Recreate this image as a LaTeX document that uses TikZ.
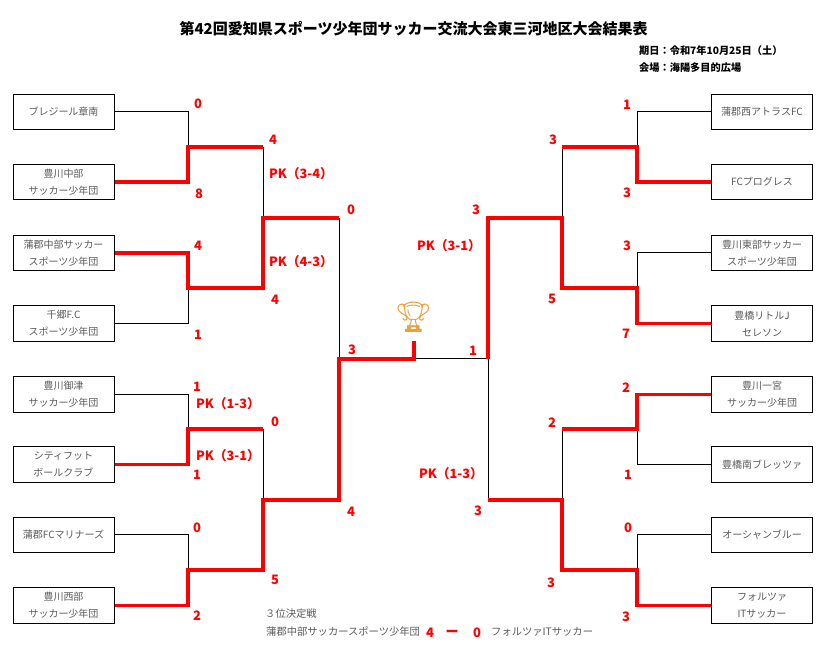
\documentclass[tikz,border=0pt]{standalone}
\usepackage{fontspec}
\setmainfont{Noto Sans CJK JP}
\newfontfamily\emofont{Noto Emoji}
\definecolor{boxgray}{HTML}{5A5A5A}
\definecolor{winred}{HTML}{FF0000}
\definecolor{trophy}{HTML}{E9A23B}
\tikzset{
  team/.style={draw, line width=1pt, minimum width=101pt, minimum height=35.5pt, inner sep=0pt,
    text=boxgray, align=center, font=\fontsize{10}{17}\selectfont},
  lose/.style={draw=black, line width=1pt},
  win/.style={draw=winred, line width=3.3pt, line join=miter},
  score/.style={text=winred, inner sep=0pt, font=\bfseries\fontsize{13}{14}\selectfont},
  pk/.style={text=winred, inner sep=0pt, font=\bfseries\fontsize{12.8}{14}\selectfont},
  info/.style={inner sep=0pt, anchor=west, font=\bfseries\fontsize{10.2}{12}\selectfont},
  bottomtxt/.style={inner sep=0pt, anchor=west, text=boxgray, font=\fontsize{10.3}{12}\selectfont}
}
\begin{document}
\begin{tikzpicture}[x=1pt,y=-1pt]
\useasboundingbox (0,0) rectangle (823,660);
% title
\node[inner sep=0pt, font=\bfseries\fontsize{15}{17}\selectfont] (title) at (413.5,29) {第42回愛知県スポーツ少年団サッカー交流大会東三河地区大会結果表};
\node[info] (date) at (639,51) {期日：令和7年10月25日（土）};
\node[info] (venue) at (639,68) {会場：海陽多目的広場};
% left teams
\node[team] (L1) at (63.5,112) {ブレジール章南};
\node[team] (L2) at (63.5,182) {豊川中部\\サッカー少年団};
\node[team] (L3) at (63.5,253) {蒲郡中部サッカー\\スポーツ少年団};
\node[team] (L4) at (63.5,323.5) {千郷F.C\\スポーツ少年団};
\node[team] (L5) at (63.5,394.5) {豊川御津\\サッカー少年団};
\node[team] (L6) at (63.5,464.5) {シティフット\\ボールクラブ};
\node[team] (L7) at (63.5,535) {蒲郡FCマリナーズ};
\node[team] (L8) at (63.5,605.5) {豊川西部\\サッカー少年団};
% right teams
\node[team] (R1) at (762,112) {蒲郡西アトラスFC};
\node[team] (R2) at (762,182) {FCプログレス};
\node[team] (R3) at (762,253) {豊川東部サッカー\\スポーツ少年団};
\node[team] (R4) at (762,323.5) {豊橋リトルJ\\セレソン};
\node[team] (R5) at (762,394.5) {豊川一宮\\サッカー少年団};
\node[team] (R6) at (762,464.5) {豊橋南ブレッツァ};
\node[team] (R7) at (762,535) {オーシャンブルー};
\node[team] (R8) at (762,605.5) {フォルツァ\\ITサッカー};
% trophy
\node[inner sep=0pt, text=trophy, font=\emofont\fontsize{30}{32}\selectfont] (cup) at (413.5,317) {🏆};
% junction coordinates
\coordinate (a1) at (188,147);
\coordinate (a2) at (188,288);
\coordinate (a3) at (188,429);
\coordinate (a4) at (188,570);
\coordinate (b1) at (263,147);
\coordinate (b2) at (263,288);
\coordinate (b3) at (263,429);
\coordinate (b4) at (263,570);
\coordinate (bm1) at (263,218);
\coordinate (bm2) at (263,500);
\coordinate (c1) at (339,218);
\coordinate (c2) at (339,500);
\coordinate (cm) at (339,359);
\coordinate (fl) at (414,359);
\coordinate (flt) at (414,341);
\coordinate (fr) at (488,359);
\coordinate (d1) at (637,147);
\coordinate (d2) at (637,288);
\coordinate (d3) at (637,429);
\coordinate (d4) at (637,570);
\coordinate (e1) at (562,147);
\coordinate (e2) at (562,288);
\coordinate (e3) at (562,429);
\coordinate (e4) at (562,570);
\coordinate (em1) at (562,218);
\coordinate (em2) at (562,500);
\coordinate (g1) at (488,218);
\coordinate (g2) at (488,500);
% black (losing) lines
\draw[lose] (L1.east) -| (a1);
\draw[lose] (L4.east) -| (a2);
\draw[lose] (L5.east) -| (a3);
\draw[lose] (L7.east) -| (a4);
\draw[lose] (b1) -- (bm1);
\draw[lose] (b3) -- (bm2);
\draw[lose] (c1) -- (cm);
\draw[lose] (fl) -- (fr) -- (g2);
\draw[lose] (R1.west) -| (d1);
\draw[lose] (R3.west) -| (d2);
\draw[lose] (R6.west) -| (d3);
\draw[lose] (R7.west) -| (d4);
\draw[lose] (e1) -- (em1);
\draw[lose] (e3) -- (em2);
% red (winning) lines
\draw[win] (L2.east) -| (a1) -- (b1);
\draw[win] (L3.east) -| (a2) -- (b2) -- (bm1) -- (c1);
\draw[win] (L6.east) -| (a3) -- (b3);
\draw[win] (L8.east) -| (a4) -- (b4) -- (bm2) -- (c2) -- (cm) -- (fl) -- (flt);
\draw[win] (R2.west) -| (d1) -- (e1);
\draw[win] (R4.west) -| (d2) -- (e2) -- (em1) -- (g1) -- (fr);
\draw[win] (R5.west) -| (d3) -- (e3);
\draw[win] (R8.west) -| (d4) -- (e4) -- (em2) -- (g2);
% left scores
\node[score] (sl1) at (198,104) {0};
\node[score] (sl2) at (199,194) {8};
\node[score] (sl3) at (198,246) {4};
\node[score] (sl4) at (198,335) {1};
\node[score] (sl5) at (197,387) {1};
\node[score] (sl6) at (197,475) {1};
\node[score] (sl7) at (197,528) {0};
\node[score] (sl8) at (197,616) {2};
\node[score] (sl9) at (273,140) {4};
\node[score] (sl10) at (275,300) {4};
\node[score] (sl11) at (275,422) {0};
\node[score] (sl12) at (275,580) {5};
\node[score] (sl13) at (351,210) {0};
\node[score] (sl14) at (351,512) {4};
\node[score] (sl15) at (352,350) {3};
\node[pk] (pl1) at (301,174) {PK（3-4）};
\node[pk] (pl2) at (301,262) {PK（4-3）};
\node[pk] (pl3) at (228,404) {PK（1-3）};
\node[pk] (pl4) at (228,456) {PK（3-1）};
% right scores
\node[score] (sr1) at (627,105) {1};
\node[score] (sr2) at (627,193) {3};
\node[score] (sr3) at (627,246) {3};
\node[score] (sr4) at (626,334) {7};
\node[score] (sr5) at (626,388) {2};
\node[score] (sr6) at (628,475) {1};
\node[score] (sr7) at (628,528) {0};
\node[score] (sr8) at (626,617) {3};
\node[score] (sr9) at (553,140) {3};
\node[score] (sr10) at (552,299) {5};
\node[score] (sr11) at (552,423) {2};
\node[score] (sr12) at (551,583) {3};
\node[score] (sr13) at (476,210) {3};
\node[score] (sr14) at (478,511) {3};
\node[score] (sr15) at (473,351) {1};
\node[pk] (pr1) at (449,246) {PK（3-1）};
\node[pk] (pr2) at (451,474) {PK（1-3）};
% third place
\node[bottomtxt] (third) at (265,614) {３位決定戦};
\node[bottomtxt] (t1) at (266,632) {蒲郡中部サッカースポーツ少年団};
\node[score] (t1s) at (430,633) {4};
\node[score] (tdash) at (452,633) {ー};
\node[score] (t2s) at (477,633) {0};
\node[bottomtxt] (t2) at (491,632) {フォルツァITサッカー};
\end{tikzpicture}
\end{document}
